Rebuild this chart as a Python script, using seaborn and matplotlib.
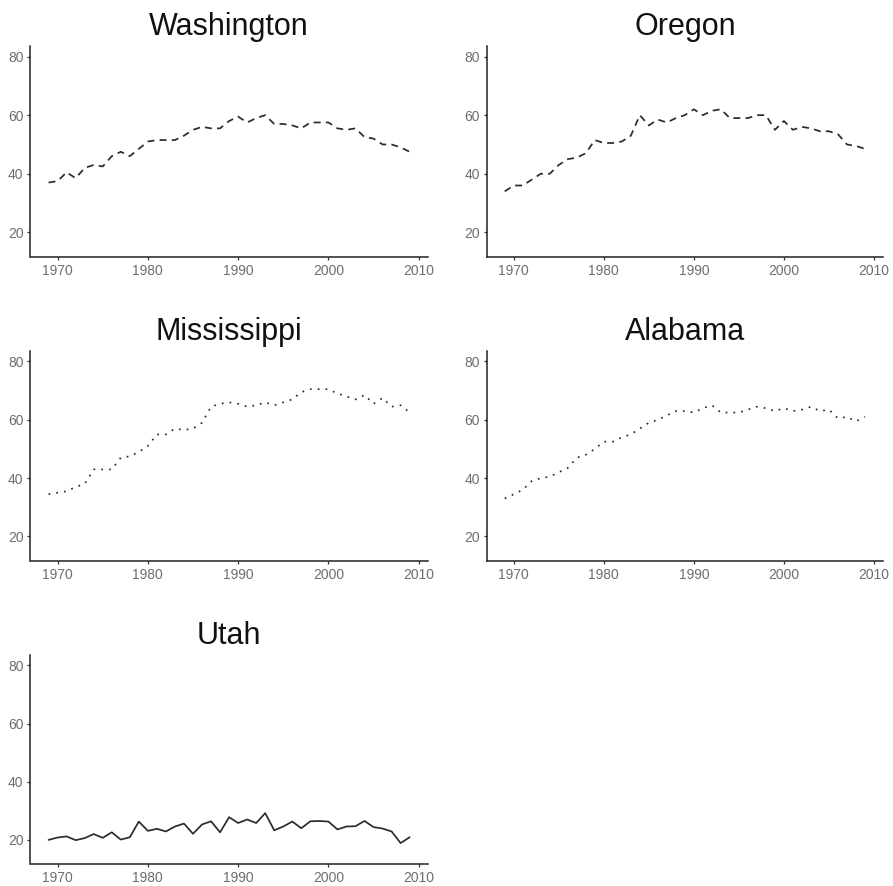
import matplotlib
matplotlib.use("Agg")
import matplotlib.pyplot as plt
import seaborn as sns
import pandas as pd

years = list(range(1969, 2010))

washington = [37, 37.5, 40.5, 38.5, 42, 43, 42.5, 46, 47.5, 46,
              48.5, 51, 51.5, 51.5, 51.5, 53, 55, 56, 55.5, 55.5,
              58, 59.5, 57.5, 59, 60, 57, 57, 56.5, 55.5, 57.5,
              57.5, 57.5, 55.5, 55, 55.5, 52.5, 52, 50, 50, 49, 47.5]

oregon = [34, 36, 36, 38, 40, 40, 43, 45, 45.5, 47,
          51.5, 50.5, 50.5, 51, 53, 60, 56.5, 58.5, 57.5, 59,
          60, 62, 60, 61.5, 62, 59, 59, 59, 60, 60,
          55, 58, 55, 56, 55.5, 54.5, 54.5, 53.5, 50, 49.5, 48.5]

mississippi = [34.5, 35, 35.5, 37, 38, 43, 43, 43, 47, 47.5,
               49, 51, 55, 55, 57, 56.5, 57, 59, 64.5, 65.5,
               66, 65.5, 64.5, 65, 66, 65, 66, 67, 69.5, 70.5,
               70.5, 70.5, 69, 68, 67, 68.5, 65.5, 67.5, 64.5, 65, 62.5]

alabama = [33, 34.5, 36, 39, 40, 40.5, 42, 43.5, 47, 48,
           50, 52.5, 52.5, 54, 55, 57, 59, 60, 61.5, 63,
           63, 62.5, 64, 65, 62.5, 62.5, 62.5, 63.5, 64.5, 64,
           63, 64, 63, 63.5, 64.5, 63, 63.5, 60.5, 61, 59.5, 61]

utah = [20, 20.8, 21.2, 19.9, 20.6, 22, 20.7, 22.6, 20.1, 20.9,
        26.3, 23.1, 23.8, 22.9, 24.6, 25.6, 22.1, 25.3, 26.4, 22.6,
        27.8, 25.8, 27, 25.8, 29.2, 23.3, 24.6, 26.3, 24, 26.4,
        26.5, 26.3, 23.6, 24.6, 24.7, 26.5, 24.4, 23.9, 22.9, 18.9, 20.9]

states = ["Washington", "Oregon", "Mississippi", "Alabama", "Utah"]
series = [washington, oregon, mississippi, alabama, utah]

frames = [pd.DataFrame({"year": years, "value": vals, "state": name})
          for name, vals in zip(states, series)]
df = pd.concat(frames, ignore_index=True)

sns.set_theme(style="ticks")
plt.rcParams["font.family"] = ["Liberation Sans", "DejaVu Sans"]

line_styles = {
    "Washington": (0, (4, 3)),
    "Oregon": (0, (4, 3)),
    "Mississippi": (0, (1, 3.5)),
    "Alabama": (0, (1, 3.5)),
    "Utah": "-",
}

fig = plt.figure(figsize=(8.93, 8.86), dpi=100)

W, H = 893.0, 886.0
cols = [(30.5, 427.7), (486.7, 883.0)]
rows = [(46.0, 256.7), (351.0, 560.7), (655.0, 864.0)]

for i, name in enumerate(states):
    r, c = divmod(i, 2)
    x0, x1 = cols[c]
    y0, y1 = rows[r]
    ax = fig.add_axes([x0 / W, 1 - y1 / H, (x1 - x0) / W, (y1 - y0) / H])
    sub = df[df["state"] == name]
    sns.lineplot(data=sub, x="year", y="value", ax=ax, color="#2b2b2b",
                 linewidth=1.25, linestyle=line_styles[name])
    ax.set_xlim(1967, 2011)
    ax.set_ylim(11.7, 83.6)
    ax.set_xticks([1970, 1980, 1990, 2000, 2010])
    ax.set_yticks([20, 40, 60, 80])
    ax.set_xlabel("")
    ax.set_ylabel("")
    ax.set_title(name, fontsize=22, color="#111111", pad=8)
    for side in ("top", "right"):
        ax.spines[side].set_visible(False)
    for side in ("left", "bottom"):
        ax.spines[side].set_color("#222222")
        ax.spines[side].set_linewidth(1.1)
    ax.tick_params(axis="both", length=2.5, width=0.9, color="#333333",
                   labelsize=10, labelcolor="#6e6e6e", pad=2.5)
    ax.set_facecolor("white")

fig.savefig("out.png", dpi=100, facecolor="white")
